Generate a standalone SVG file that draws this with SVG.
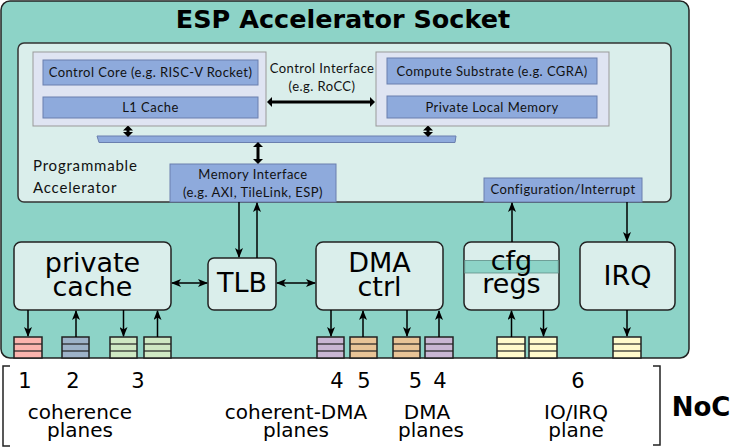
<svg xmlns="http://www.w3.org/2000/svg" width="747" height="447" viewBox="0 0 747 447">
<defs>
<style>
.sock{fill:#8dd3c7;stroke:#222;stroke-width:1.5}
.inner{fill:#daeeeb;stroke:#333;stroke-width:1.5}
.grp{fill:#dfe4f2;stroke:#999;stroke-width:1}
.blu{fill:#8eaadc;stroke:#6a7fae;stroke-width:1}
.node{fill:#daeeeb;stroke:#222;stroke-width:1.5}
.sm{font-family:Lato,"Open Sans",sans-serif;font-size:13px;letter-spacing:0.45px;fill:#111}
.lbl{font-family:Lato,"Open Sans",sans-serif;font-size:15px;letter-spacing:0.8px;fill:#111}
.big{font-family:"DejaVu Sans",sans-serif;font-size:27px;fill:#000;text-anchor:middle}
.bot{font-family:"DejaVu Sans",sans-serif;font-size:20px;fill:#000;text-anchor:middle}
.num{font-family:"DejaVu Sans",sans-serif;font-size:21px;fill:#000;text-anchor:middle}
.bold{font-family:"DejaVu Sans",sans-serif;font-weight:bold;fill:#000;text-anchor:middle}
.mid{text-anchor:middle}
.thin{stroke:#000;stroke-width:1.5;fill:none}
.thick{stroke:#000;stroke-width:3;fill:none}
.q line{stroke:#222;stroke-width:1.2}
.q rect{stroke:#222;stroke-width:1.5}
</style>
<marker id="ah" viewBox="0 0 10 8" refX="9" refY="4" markerWidth="10" markerHeight="8" markerUnits="userSpaceOnUse" orient="auto-start-reverse">
<path d="M0,0 L10,4 L0,8 L2.5,4 z" fill="#000"/>
</marker>
<marker id="th" viewBox="0 0 5 10" refX="2" refY="5" markerWidth="5" markerHeight="10" markerUnits="userSpaceOnUse" orient="auto-start-reverse">
<path d="M0,0 L5,5 L0,10 z" fill="#000"/>
</marker>
</defs>

<g id="socket">
<rect class="sock" x="1" y="1" width="688" height="357" rx="9"/>
<text class="bold" x="343" y="28" font-size="25.5">ESP Accelerator Socket</text>
</g>

<g id="programmable-accelerator">
<rect class="inner" x="18" y="43" width="653" height="159" rx="6"/>
<text class="lbl" x="33" y="171">Programmable</text>
<text class="lbl" x="33" y="193">Accelerator</text>
</g>

<g id="control-group">
<rect class="grp" x="33" y="52" width="233" height="74"/>
<g id="control-core">
<rect class="blu" x="43" y="60" width="215" height="25"/>
<text class="sm mid" x="150.5" y="77">Control Core (e.g. RISC-V Rocket)</text>
</g>
<g id="l1-cache">
<rect class="blu" x="43" y="97" width="215" height="21"/>
<text class="sm mid" x="150.5" y="112">L1 Cache</text>
</g>
</g>

<g id="compute-group">
<rect class="grp" x="376" y="52" width="233" height="74"/>
<g id="compute-substrate">
<rect class="blu" x="387" y="58" width="210" height="26"/>
<text class="sm mid" x="492" y="76">Compute Substrate (e.g. CGRA)</text>
</g>
<g id="private-local-memory">
<rect class="blu" x="387" y="96" width="210" height="22"/>
<text class="sm mid" x="492" y="112">Private Local Memory</text>
</g>
</g>

<g id="control-interface-label">
<text class="sm mid" x="322" y="73">Control Interface</text>
<text class="sm mid" x="322" y="91">(e.g. RoCC)</text>
</g>

<g id="bus">
<polygon class="blu" points="97,136 456,136 455,142.5 99,142.5"/>
</g>

<g id="memory-interface">
<rect class="blu" x="170" y="164" width="166" height="38"/>
<text class="sm mid" x="253" y="179">Memory Interface</text>
<text class="sm mid" x="253" y="197">(e.g. AXI, TileLink, ESP)</text>
</g>

<g id="config-interrupt">
<rect class="blu" x="484" y="178" width="158" height="24"/>
<text class="sm mid" x="563" y="194">Configuration/Interrupt</text>
</g>

<g id="private-cache">
<rect class="node" x="14" y="242" width="157" height="68" rx="7"/>
<text class="big" x="92.5" y="272">private</text>
<text class="big" x="92.5" y="296">cache</text>
</g>

<g id="tlb">
<rect class="node" x="208" y="258" width="68" height="52" rx="6"/>
<text class="big" x="242" y="292">TLB</text>
</g>

<g id="dma-ctrl">
<rect class="node" x="316" y="242" width="127" height="68" rx="7"/>
<text class="big" x="379.5" y="272">DMA</text>
<text class="big" x="379.5" y="296">ctrl</text>
</g>

<g id="cfg-regs">
<rect class="node" x="464" y="242" width="95" height="68" rx="7"/>
<rect x="464.75" y="260.5" width="93.5" height="12.5" fill="#8dd3c7" stroke="#5f8f88" stroke-width="0.8"/>
<text class="big" x="511.5" y="270">cfg</text>
<text class="big" x="511.5" y="293">regs</text>
</g>

<g id="irq">
<rect class="node" x="580" y="242" width="95" height="68" rx="7"/>
<text class="big" x="627.5" y="285">IRQ</text>
</g>

<g id="queues" class="q">
<g id="q1"><rect x="14" y="337" width="28" height="21" fill="#fbb4ae"/><line x1="14" y1="344" x2="42" y2="344"/><line x1="14" y1="351" x2="42" y2="351"/></g>
<g id="q2"><rect x="62" y="337" width="27" height="21" fill="#9db2c8"/><line x1="62" y1="344" x2="89" y2="344"/><line x1="62" y1="351" x2="89" y2="351"/></g>
<g id="q3a"><rect x="110" y="337" width="27" height="21" fill="#cfe8c3"/><line x1="110" y1="344" x2="137" y2="344"/><line x1="110" y1="351" x2="137" y2="351"/></g>
<g id="q3b"><rect x="144" y="337" width="27" height="21" fill="#cfe8c3"/><line x1="144" y1="344" x2="171" y2="344"/><line x1="144" y1="351" x2="171" y2="351"/></g>
<g id="q4a"><rect x="317" y="337" width="27" height="21" fill="#c9b6d3"/><line x1="317" y1="344" x2="344" y2="344"/><line x1="317" y1="351" x2="344" y2="351"/></g>
<g id="q5a"><rect x="350" y="337" width="27" height="21" fill="#e8c497"/><line x1="350" y1="344" x2="377" y2="344"/><line x1="350" y1="351" x2="377" y2="351"/></g>
<g id="q5b"><rect x="393" y="337" width="27" height="21" fill="#e8c497"/><line x1="393" y1="344" x2="420" y2="344"/><line x1="393" y1="351" x2="420" y2="351"/></g>
<g id="q4b"><rect x="425" y="337" width="28" height="21" fill="#c9b6d3"/><line x1="425" y1="344" x2="453" y2="344"/><line x1="425" y1="351" x2="453" y2="351"/></g>
<g id="q6a"><rect x="497" y="337" width="28" height="21" fill="#fffacc"/><line x1="497" y1="344" x2="525" y2="344"/><line x1="497" y1="351" x2="525" y2="351"/></g>
<g id="q6b"><rect x="529" y="337" width="28" height="21" fill="#fffacc"/><line x1="529" y1="344" x2="557" y2="344"/><line x1="529" y1="351" x2="557" y2="351"/></g>
<g id="q6c"><rect x="613" y="337" width="28" height="21" fill="#fffacc"/><line x1="613" y1="344" x2="641" y2="344"/><line x1="613" y1="351" x2="641" y2="351"/></g>
</g>

<g id="connectors">
<line class="thick" x1="270" y1="102" x2="372" y2="102" marker-start="url(#th)" marker-end="url(#th)"/>
<line class="thick" x1="128" y1="128.5" x2="128" y2="134" marker-start="url(#th)" marker-end="url(#th)"/>
<line class="thick" x1="428" y1="128.5" x2="428" y2="134" marker-start="url(#th)" marker-end="url(#th)"/>
<line class="thick" x1="258" y1="145" x2="258" y2="161" marker-start="url(#th)" marker-end="url(#th)"/>
<line class="thin" x1="239" y1="202" x2="239" y2="257" marker-end="url(#ah)"/>
<line class="thin" x1="257" y1="258" x2="257" y2="203" marker-end="url(#ah)"/>
<line class="thin" x1="172" y1="283" x2="207" y2="283" marker-start="url(#ah)" marker-end="url(#ah)"/>
<line class="thin" x1="277" y1="283" x2="315" y2="283" marker-start="url(#ah)" marker-end="url(#ah)"/>
<line class="thin" x1="512" y1="242" x2="512" y2="203" marker-end="url(#ah)"/>
<line class="thin" x1="627" y1="202" x2="627" y2="241" marker-end="url(#ah)"/>
<line class="thin" x1="28" y1="310" x2="28" y2="336" marker-end="url(#ah)"/>
<line class="thin" x1="76" y1="337" x2="76" y2="311" marker-end="url(#ah)"/>
<line class="thin" x1="123.5" y1="310" x2="123.5" y2="336" marker-end="url(#ah)"/>
<line class="thin" x1="157.5" y1="337" x2="157.5" y2="311" marker-end="url(#ah)"/>
<line class="thin" x1="331" y1="310" x2="331" y2="336" marker-end="url(#ah)"/>
<line class="thin" x1="363" y1="337" x2="363" y2="311" marker-end="url(#ah)"/>
<line class="thin" x1="407" y1="310" x2="407" y2="336" marker-end="url(#ah)"/>
<line class="thin" x1="439" y1="337" x2="439" y2="311" marker-end="url(#ah)"/>
<line class="thin" x1="511.5" y1="337" x2="511.5" y2="311" marker-end="url(#ah)"/>
<line class="thin" x1="543.5" y1="310" x2="543.5" y2="336" marker-end="url(#ah)"/>
<line class="thin" x1="627" y1="310" x2="627" y2="336" marker-end="url(#ah)"/>
</g>

<g id="noc-labels">
<path d="M10,366 L3,366 L3,446 L10,446" fill="none" stroke="#222" stroke-width="1.5"/>
<path d="M653,366 L660,366 L660,445 L653,445" fill="none" stroke="#222" stroke-width="1.5"/>
<text class="num" x="25" y="388">1</text>
<text class="num" x="73" y="388">2</text>
<text class="num" x="138" y="388">3</text>
<text class="num" x="337" y="388">4</text>
<text class="num" x="364" y="388">5</text>
<text class="num" x="415.5" y="388">5</text>
<text class="num" x="440" y="388">4</text>
<text class="num" x="578" y="388">6</text>
<text class="bot" x="80" y="419">coherence</text>
<text class="bot" x="80" y="437">planes</text>
<text class="bot" x="296" y="419">coherent-DMA</text>
<text class="bot" x="296" y="437">planes</text>
<text class="bot" x="427" y="419">DMA</text>
<text class="bot" x="431" y="437">planes</text>
<text class="bot" x="576" y="419">IO/IRQ</text>
<text class="bot" x="576" y="437">plane</text>
<text class="bold" x="701" y="416" font-size="26">NoC</text>
</g>
</svg>
